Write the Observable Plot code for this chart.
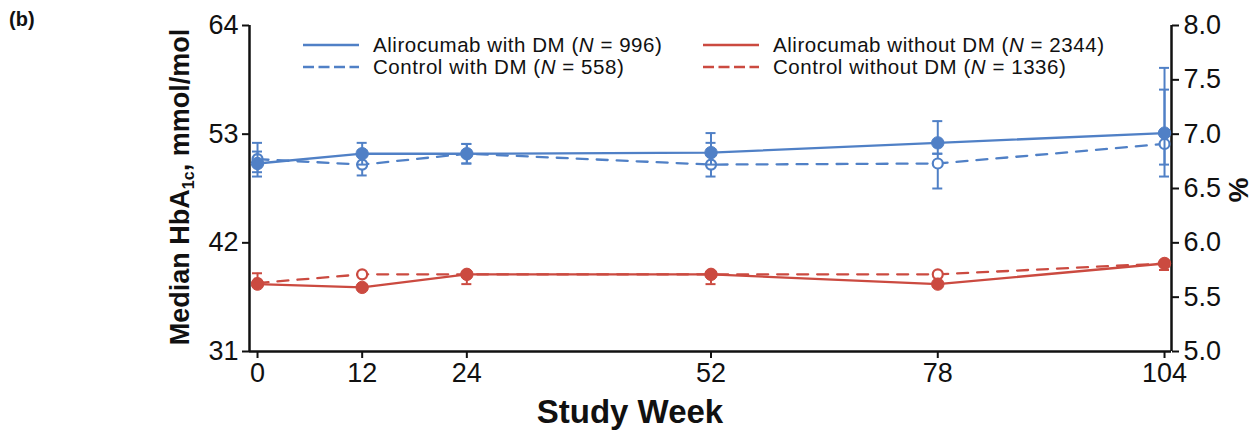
<!DOCTYPE html>
<html><head><meta charset="utf-8">
<script src="https://cdn.jsdelivr.net/npm/d3@7"></script>
<script src="https://cdn.jsdelivr.net/npm/@observablehq/plot@0.6"></script>
<style>
body{margin:0;background:#fff;font-family:"Liberation Sans",Arial,Helvetica,sans-serif;color:#111}
#wrap{position:relative;width:1254px;height:430px;overflow:hidden}
#wrap > svg{position:absolute;left:0;top:0}
.abs{position:absolute;white-space:nowrap;line-height:1}
.panel{left:9px;top:9px;font-weight:bold;font-size:20px}
.ytitle{font-weight:bold;font-size:27px;transform:translate(-50%,-50%) rotate(-90deg);left:180px;top:187px}
.ytitle sub{font-size:16px;vertical-align:-5px;line-height:0}
.rtitle{font-weight:bold;font-size:28px;transform:translate(-50%,-50%) rotate(90deg);left:1238px;top:190px}
.xtitle{font-weight:bold;font-size:33px;transform:translate(-50%,-50%);left:630px;top:411px}
.leg{font-size:20.5px;letter-spacing:0.55px;height:20px;transform:translateY(-50%);display:flex;align-items:center}
#wrap .leg svg{position:static;margin-right:14px;flex:none}
</style></head><body>
<div id="wrap"></div>
<script>
// ---- data (HbA1c medians, %) ----
const weeks = [0, 12, 24, 52, 78, 104];
const weekTicks = [0, 12, 24, 52, 78, 104];

const aliroDM     = [6.73, 6.82, 6.82, 6.83, 6.92, 7.01];
const aliroDMLo   = [6.65, 6.72, 6.73, 6.72, 6.82, 6.72];
const aliroDMHi   = [6.92, 6.92, 6.91, 7.01, 7.12, 7.41];

const controlDM   = [6.77, 6.72, 6.82, 6.72, 6.73, 6.91];
const controlDMLo = [6.61, 6.62, 6.73, 6.61, 6.50, 6.61];
const controlDMHi = [6.84, 6.82, 6.91, 6.92, 6.82, 7.61];

const aliroNoDM     = [5.62, 5.59, 5.71, 5.71, 5.62, 5.81];
const aliroNoDMLo   = [5.62, 5.59, 5.62, 5.62, 5.62, 5.75];
const aliroNoDMHi   = [5.62, 5.59, 5.71, 5.71, 5.62, 5.81];

const controlNoDM   = [5.63, 5.71, 5.71, 5.71, 5.71, 5.81];
const controlNoDMLo = [5.63, 5.71, 5.71, 5.71, 5.71, 5.81];
const controlNoDMHi = [5.72, 5.71, 5.71, 5.71, 5.71, 5.81];

const seriesNames = ["Alirocumab with DM", "Control with DM", "Alirocumab without DM", "Control without DM"];
const seriesN = [996, 558, 2344, 1336];

const leftTickValues = [5, 6, 7, 8];
const leftTickLabels = ["31", "42", "53", "64"];
const rightTickValues = [5, 5.5, 6, 6.5, 7, 7.5, 8];

const BLUE = "#5080c6";
const RED = "#cb4a40";
const xDomain = [-0.92, 104.8];
const yDomain = [5, 8];

function rowsOf(v, lo, hi) { return weeks.map((w, i) => ({week: w, v: v[i], lo: lo[i], hi: hi[i]})); }

function seriesMarks(rows, color, dashed, open) {
  const common = {stroke: color, strokeWidth: 2};
  return [
    Plot.line(rows, {x: "week", y: "v", stroke: color, strokeWidth: 2.3, ...(dashed ? {strokeDasharray: "11,9"} : {})}),
    Plot.ruleX(rows, {x: "week", y1: "lo", y2: "hi", ...common}),
    Plot.ruleY(rows, {x1: "week", x2: "week", y: "lo", insetLeft: -5, insetRight: -5, ...common}),
    Plot.ruleY(rows, {x1: "week", x2: "week", y: "hi", insetLeft: -5, insetRight: -5, ...common}),
    Plot.dot(rows, {x: "week", y: "v", r: open ? 5 : 6.2, fill: open ? "white" : color, stroke: color, strokeWidth: open ? 2.2 : 1})
  ];
}

const chart = Plot.plot({
  width: 1254, height: 430,
  marginTop: 25, marginBottom: 79, marginLeft: 249, marginRight: 83,
  style: {fontFamily: "'Liberation Sans', Arial, Helvetica, sans-serif", color: "#111", background: "transparent"},
  x: {type: "linear", domain: xDomain},
  y: {type: "linear", domain: yDomain},
  marks: [
    Plot.axisY({anchor: "left", ticks: leftTickValues, tickFormat: (d, i) => leftTickLabels[i], tickSize: 7, tickPadding: 4, fontSize: 27, strokeWidth: 2, label: null}),
    Plot.axisY({anchor: "right", ticks: rightTickValues, tickFormat: d3.format(".1f"), tickSize: 7, tickPadding: 5, fontSize: 27, strokeWidth: 2, label: null}),
    Plot.axisX({ticks: weekTicks, tickFormat: d => String(d), tickSize: 7, tickPadding: 4, fontSize: 27, strokeWidth: 2, label: null}),
    Plot.ruleX([xDomain[0], xDomain[1]], {stroke: "#111", strokeWidth: 2.5}),
    Plot.ruleY([yDomain[0]], {stroke: "#111", strokeWidth: 2.5}),
    ...seriesMarks(rowsOf(controlDM, controlDMLo, controlDMHi), BLUE, true, true),
    ...seriesMarks(rowsOf(aliroDM, aliroDMLo, aliroDMHi), BLUE, false, false),
    ...seriesMarks(rowsOf(controlNoDM, controlNoDMLo, controlNoDMHi), RED, true, true),
    ...seriesMarks(rowsOf(aliroNoDM, aliroNoDMLo, aliroNoDMHi), RED, false, false)
  ]
});

const wrap = document.getElementById("wrap");
wrap.appendChild(chart);

function addDiv(cls, html, style) {
  const d = document.createElement("div");
  d.className = "abs " + cls;
  d.innerHTML = html;
  if (style) Object.assign(d.style, style);
  wrap.appendChild(d);
}
addDiv("panel", "(b)");
addDiv("ytitle", "Median HbA<sub>1c</sub>, mmol/mol");
addDiv("rtitle", "%");
addDiv("xtitle", "Study Week");

const legendColors = [BLUE, BLUE, RED, RED];
const legendDashed = [false, true, false, true];
const legendLeft = [303, 303, 703, 703];
const legendTop = [45, 67, 45, 67];
seriesNames.forEach((name, i) => {
  const sample = `<svg width="56" height="6"><line x1="0" y1="3" x2="56" y2="3" stroke="${legendColors[i]}" stroke-width="2.3" ${legendDashed[i] ? 'stroke-dasharray="11,4.5"' : ''}/></svg>`;
  addDiv("leg", `${sample}<span>${name} (<i>N</i> = ${seriesN[i]})</span>`, {left: legendLeft[i] + "px", top: legendTop[i] + "px"});
});
</script>
</body></html>
